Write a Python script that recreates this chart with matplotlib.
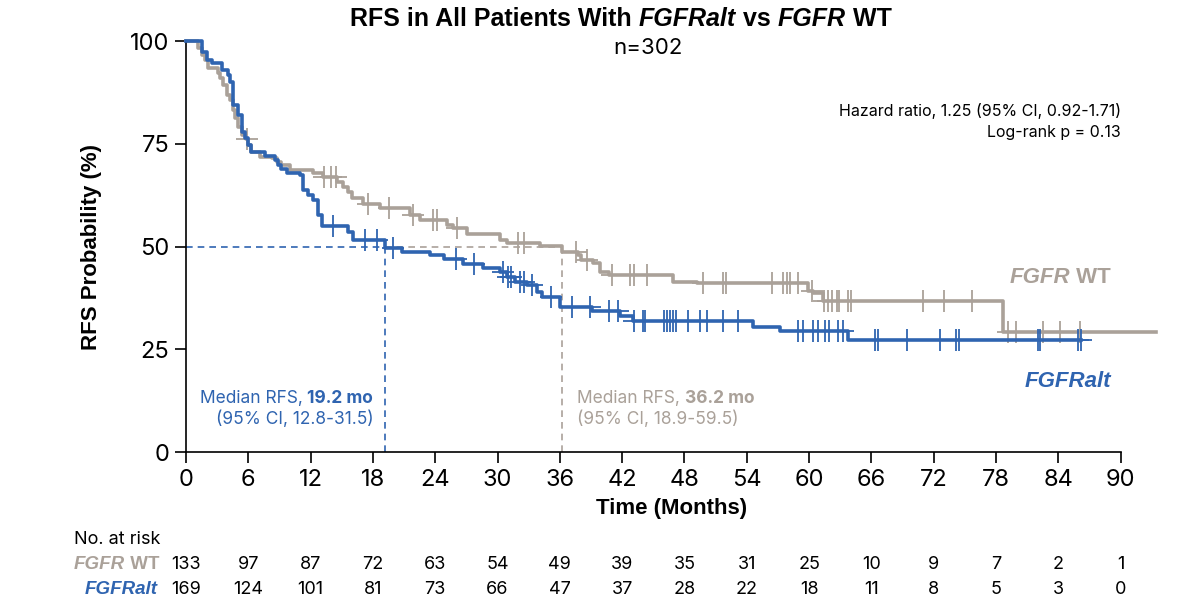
import numpy as np
import matplotlib
matplotlib.use('Agg')
import matplotlib.pyplot as plt
import matplotlib.transforms as mtransforms

plt.rcParams['font.family'] = ['Liberation Sans', 'DejaVu Sans']

# Kaplan-Meier data
blue_t = [0, 1.5, 2.0, 2.5, 3.5, 4.0, 4.2, 4.5, 5.0, 5.4, 5.7, 6.0, 6.3, 7.6, 8.6,
          8.9, 9.1, 9.7, 11.0, 11.3, 11.7, 12.2, 12.7, 13.1, 15.6, 16.1, 19.2, 20.8,
          23.5, 24.8, 26.7, 28.6, 30.2, 30.9, 31.7, 32.8, 33.8, 34.3, 36.0, 39.1,
          41.8, 43.0, 54.6, 57.2, 63.7]
blue_s = [100, 97.3, 95.4, 94.6, 93.0, 91.7, 90.0, 84.4, 82.0, 77.9, 76.4, 74.7, 73.0,
          72.0, 71.0, 69.8, 69.0, 68.0, 67.4, 63.7, 62.5, 61.3, 57.7, 55.0, 53.5, 51.6,
          49.6, 48.7, 47.9, 47.0, 45.7, 44.8, 43.8, 42.6, 41.4, 40.6, 39.0, 37.7, 35.3,
          34.3, 33.1, 31.9, 30.4, 29.4, 27.2]
blue_cens = [14.2, 17.2, 18.4, 19.9, 26.0, 27.7, 30.5, 31.0, 31.3, 32.2, 32.5, 33.3,
             35.1, 37.2, 38.9, 40.7, 41.6, 43.1, 44.0, 44.2, 46.0, 46.3, 46.6, 46.9,
             47.2, 48.3, 49.5, 50.2, 51.7, 53.2, 58.9, 59.4, 60.4, 60.9, 61.5, 61.9,
             62.8, 63.3, 66.3, 66.6, 69.4, 72.6, 74.1, 74.4, 82.0, 82.2, 85.9, 86.2]
blue_end = 86.2

gray_t = [0, 1.2, 1.5, 1.8, 2.1, 3.1, 3.3, 3.6, 3.9, 4.2, 4.5, 4.7, 5.0, 5.4, 5.8, 6.0,
          6.3, 7.1, 8.3, 8.8, 9.1, 10.0, 12.2, 13.2, 14.5, 15.1, 15.6, 16.0, 17.0, 18.7,
          21.6, 22.5, 25.1, 25.7, 27.1, 30.2, 30.9, 34.1, 36.2, 37.7, 38.0, 39.2, 39.9,
          40.7, 46.9, 49.2, 59.9, 60.4, 61.3, 78.7]
gray_s = [100, 98.3, 96.6, 95.4, 93.4, 92.2, 91.0, 89.3, 86.9, 85.6, 83.2, 81.3, 79.1,
          77.1, 76.2, 74.7, 73.0, 71.8, 71.5, 70.6, 69.8, 68.6, 68.0, 67.0, 65.7, 64.5,
          63.2, 61.8, 60.3, 59.4, 57.7, 56.4, 55.2, 54.5, 53.0, 51.6, 50.8, 50.1, 48.7,
          47.9, 46.7, 46.0, 43.8, 43.1, 41.4, 41.1, 39.2, 38.7, 36.7, 29.2]
gray_cens = [5.9, 13.3, 14.0, 14.4, 17.5, 19.5, 21.9, 23.8, 24.2, 26.1, 32.0, 32.5,
             37.6, 38.6, 41.0, 42.8, 43.1, 44.4, 49.8, 51.7, 52.0, 56.4, 57.5, 57.9,
             58.2, 58.9, 60.3, 61.4, 61.8, 62.2, 62.7, 62.9, 63.7, 64.0, 71.0, 73.0,
             75.7, 79.2, 79.9, 82.5, 84.2, 86.1]
gray_end = 93.4

median_blue = 19.2
median_gray = 36.2

risk_times = list(range(0, 91, 6))
risk_wt = [133, 97, 87, 72, 63, 54, 49, 39, 35, 31, 25, 10, 9, 7, 2, 1]
risk_alt = [169, 124, 101, 81, 73, 66, 47, 37, 28, 22, 18, 11, 8, 5, 3, 0]

BLUE = '#2f64b0'
GRAY = '#aaa199'


def km_at(t, times, surv):
    idx = np.searchsorted(times, t, side='right') - 1
    return np.asarray(surv)[idx]


def chain(ax, x, y, pieces, transform, ha='left', **kw):
    # pieces = [(text, dict)], drawn one after another starting from x (left or right)
    if ha == 'right':
        pieces = pieces[::-1]
    prev = None
    for txt, st in pieces:
        opts = dict(kw)
        opts.update(st)
        if prev is None:
            prev = ax.annotate(txt, xy=(x, y), xycoords=transform, ha=ha,
                               va='baseline', **opts)
        else:
            xy = (1, 0) if ha == 'left' else (0, 0)
            prev = ax.annotate(txt, xy=xy, xycoords=prev, ha=ha,
                               va='bottom', **opts)
    return prev


fig = plt.figure(figsize=(12, 6.16), dpi=100)
ax = fig.add_axes([0.155, 0.266, 0.81, 0.667])
ax.set_xlim(0, 93.6)
ax.set_ylim(0, 100)

# median reference lines
ax.plot([0, median_blue], [50, 50], ls=(0, (4, 3)), color=BLUE, lw=1.2, zorder=1)
ax.plot([median_blue, median_blue], [0, 50], ls=(0, (4, 3)), color=BLUE, lw=1.2, zorder=1)
ax.plot([median_blue, median_gray], [50, 50], ls=(0, (4, 3)), color=GRAY, lw=1.2, zorder=1)
ax.plot([median_gray, median_gray], [0, 50], ls=(0, (4, 3)), color=GRAY, lw=1.2, zorder=1)

for t, s, cens, end, col, z in [(gray_t, gray_s, gray_cens, gray_end, GRAY, 2),
                                (blue_t, blue_s, blue_cens, blue_end, BLUE, 3)]:
    xs = list(t) + [end]
    ys = list(s) + [s[-1]]
    ax.step(xs, ys, where='post', color=col, lw=2.6, zorder=z, clip_on=False)
    ax.plot(cens, km_at(cens, t, s), ls='none', marker='+', ms=16, mew=1.3,
            color=col, zorder=z, clip_on=False)

for sp in ['top', 'right']:
    ax.spines[sp].set_visible(False)
ax.spines['left'].set_linewidth(1.2)
ax.spines['bottom'].set_linewidth(1.2)
ax.spines['bottom'].set_bounds(0, 90)

ax.set_xticks(risk_times)
ax.set_yticks([0, 25, 50, 75, 100])
ax.tick_params(axis='both', direction='out', length=8, width=1.2, labelsize=17,
               pad=4)
for lab in ax.get_xticklabels() + ax.get_yticklabels():
    lab.set_family(['Inter', 'DejaVu Sans'])
ax.set_xlabel('Time (Months)', fontsize=16, fontweight='bold', labelpad=5)
ax.set_ylabel('RFS Probability (%)', fontsize=16, fontweight='bold', labelpad=20)

# title
bi = dict(fontweight='bold', fontstyle='italic')
b = dict(fontweight='bold')
chain(ax, 0.292, 0.958, [('RFS in All Patients With ', b), ('FGFRalt', bi),
                          (' vs ', b), ('FGFR', bi), (' WT', b)],
      fig.transFigure, fontsize=18)
fig.text(0.54, 0.913, 'n=302', ha='center', va='baseline', fontsize=16,
         family=['Inter', 'DejaVu Sans'])

# hazard ratio
fig.text(0.934, 0.811, 'Hazard ratio, 1.25 (95% CI, 0.92-1.71)', ha='right',
         fontsize=11.5, family=['Inter', 'DejaVu Sans'])
fig.text(0.934, 0.778, 'Log-rank p = 0.13', ha='right',
         fontsize=11.5, family=['Inter', 'DejaVu Sans'])

# group labels on plot
chain(ax, 0.926, 0.541, [('FGFR', dict(fontweight='bold', fontstyle='italic')),
                          (' WT', dict(fontweight='bold'))],
      fig.transFigure, ha='right', fontsize=16, color=GRAY)
fig.text(0.926, 0.372, 'FGFRalt', ha='right', fontsize=16, fontweight='bold',
         fontstyle='italic', color=BLUE)

# median annotations
inter = ['Inter', 'DejaVu Sans']
chain(ax, 0.311, 0.346, [('Median RFS, ', {}), ('19.2 mo', b)], fig.transFigure,
      ha='right', fontsize=12.5, color=BLUE, family=inter)
fig.text(0.311, 0.311, '(95% CI, 12.8-31.5)', ha='right', fontsize=12.5,
         color=BLUE, family=inter)
chain(ax, 0.481, 0.346, [('Median RFS, ', {}), ('36.2 mo', b)], fig.transFigure,
      fontsize=12.5, color=GRAY, family=inter)
fig.text(0.481, 0.311, '(95% CI, 18.9-59.5)', ha='left', fontsize=12.5,
         color=GRAY, family=inter)

# number at risk table
trans = mtransforms.blended_transform_factory(ax.transData, fig.transFigure)
fig.text(0.062, 0.117, 'No. at risk', fontsize=13, family=inter)
for t, a, c in zip(risk_times, risk_wt, risk_alt):
    ax.text(t, 0.076, str(a), transform=trans, ha='center', fontsize=13,
            family=inter, clip_on=False)
    ax.text(t, 0.035, str(c), transform=trans, ha='center', fontsize=13,
            family=inter, clip_on=False)
chain(ax, 0.133, 0.076, [('FGFR', bi), (' WT', b)], fig.transFigure, ha='right',
      fontsize=13.5, color=GRAY)
fig.text(0.131, 0.035, 'FGFRalt', ha='right', fontsize=13.5, fontweight='bold',
         fontstyle='italic', color=BLUE)

fig.savefig('out.png', dpi=100)
